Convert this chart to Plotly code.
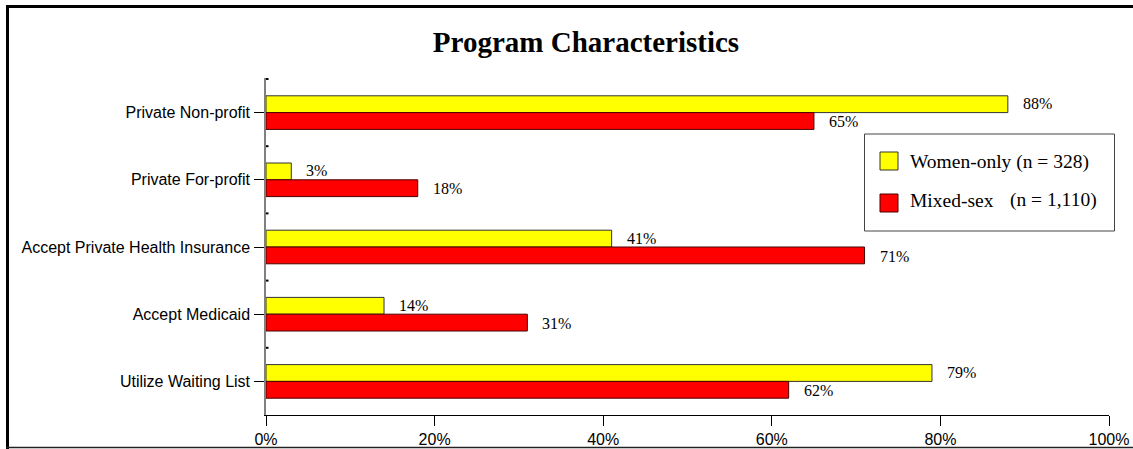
import plotly.graph_objects as go

categories = [
    "Private Non-profit",
    "Private For-profit",
    "Accept Private Health Insurance",
    "Accept Medicaid",
    "Utilize Waiting List",
]
women_only = [88, 3, 41, 14, 79]
mixed_sex = [65, 18, 71, 31, 62]
legend_labels = ["Women-only (n = 328)", "Mixed-sex", "(n = 1,110)"]
x_ticks = [0, 20, 40, 60, 80, 100]

W, H = 1133, 449
L, R, T, B = 266, 24, 78, 34
PW, PH = W - L - R, H - T - B


def px(x):
    return (x - L) / PW


def py(y):
    return (H - B - y) / PH


SERIF = "Liberation Serif, Times New Roman, serif"
SANS = "Liberation Sans, Arial, sans-serif"
YELLOW, RED = "#FFFF00", "#FF0000"

fig = go.Figure()
fig.add_trace(go.Bar(
    y=categories, x=women_only, orientation="h", name="Women-only",
    marker=dict(color=YELLOW, line=dict(color="#333333", width=1)),
    hoverinfo="x+y",
))
fig.add_trace(go.Bar(
    y=categories, x=mixed_sex, orientation="h", name="Mixed-sex",
    marker=dict(color=RED, line=dict(color="#4a0000", width=1)),
    hoverinfo="x+y",
))

annotations = []
for cat, v in zip(categories, women_only):
    annotations.append(dict(x=v, y=cat, xref="x", yref="y", text=f"{v}%",
                            showarrow=False, xanchor="left", yanchor="middle",
                            xshift=13, yshift=9,
                            font=dict(family=SERIF, size=16, color="#000")))
for cat, v in zip(categories, mixed_sex):
    annotations.append(dict(x=v, y=cat, xref="x", yref="y", text=f"{v}%",
                            showarrow=False, xanchor="left", yanchor="middle",
                            xshift=13, yshift=-9,
                            font=dict(family=SERIF, size=16, color="#000")))

# legend drawn as a boxed key
legend_font = dict(family=SERIF, size=19.5, color="#000")
annotations += [
    dict(x=px(908), y=py(162), xref="paper", yref="paper", text=legend_labels[0],
         showarrow=False, xanchor="left", yanchor="middle", font=legend_font),
    dict(x=px(908), y=py(200), xref="paper", yref="paper", text=legend_labels[1],
         showarrow=False, xanchor="left", yanchor="middle", font=legend_font),
    dict(x=px(1099), y=py(200), xref="paper", yref="paper", text=legend_labels[2],
         showarrow=False, xanchor="right", yanchor="middle", font=legend_font),
]

shapes = [
    # key box and swatches
    dict(type="rect", xref="paper", yref="paper", x0=px(864.5), x1=px(1114.5),
         y0=py(134), y1=py(231), line=dict(color="#444", width=1), fillcolor="white"),
    dict(type="rect", xref="paper", yref="paper", x0=px(880), x1=px(898),
         y0=py(152), y1=py(170), line=dict(color="#333", width=1), fillcolor=YELLOW),
    dict(type="rect", xref="paper", yref="paper", x0=px(880), x1=px(898),
         y0=py(194), y1=py(212), line=dict(color="#4a0000", width=1), fillcolor=RED),
    # outer frame
    dict(type="line", xref="paper", yref="paper", x0=px(7.5), x1=px(7.5),
         y0=py(5), y1=py(449), line=dict(color="#000", width=3)),
    dict(type="line", xref="paper", yref="paper", x0=px(6), x1=px(1133),
         y0=py(6.5), y1=py(6.5), line=dict(color="#000", width=3)),
    dict(type="line", xref="paper", yref="paper", x0=px(6), x1=px(1133),
         y0=py(447.5), y1=py(447.5), line=dict(color="#222", width=1.5)),
]

# small inner marks on the category boundaries of the y axis
for k in range(len(categories)):
    shapes.append(dict(type="line", xref="paper", yref="y",
                       x0=0, x1=px(L + 2.5), y0=k - 0.5, y1=k - 0.5,
                       line=dict(color="#000", width=2)))

fig.update_layout(
    width=W, height=H, autosize=False,
    margin=dict(l=L, r=R, t=T, b=B, pad=0, autoexpand=False),
    paper_bgcolor="white", plot_bgcolor="white",
    barmode="group", bargap=0.5, bargroupgap=0,
    showlegend=False,
    title=dict(text="<b>Program Characteristics</b>", x=586 / W, xanchor="center",
               y=1 - 42 / H, yanchor="middle",
               font=dict(family=SERIF, size=29, color="#000")),
    xaxis=dict(range=[0, 100], tickvals=x_ticks, ticktext=[f"{t}%" for t in x_ticks],
               showgrid=False, zeroline=False, showline=True, linecolor="#000",
               linewidth=1, ticks="outside", ticklen=10, tickcolor="#000",
               tickfont=dict(family=SANS, size=16, color="#000"), fixedrange=True),
    yaxis=dict(autorange="reversed", showgrid=False, zeroline=False, showline=True,
               linecolor="#808080", linewidth=1.5, ticks="outside", ticklen=10,
               tickcolor="#000", tickfont=dict(family=SANS, size=16, color="#000"),
               ticklabelstandoff=1, fixedrange=True),
    annotations=annotations,
    shapes=shapes,
)

fig.write_html("out.html", config={"responsive": False})
